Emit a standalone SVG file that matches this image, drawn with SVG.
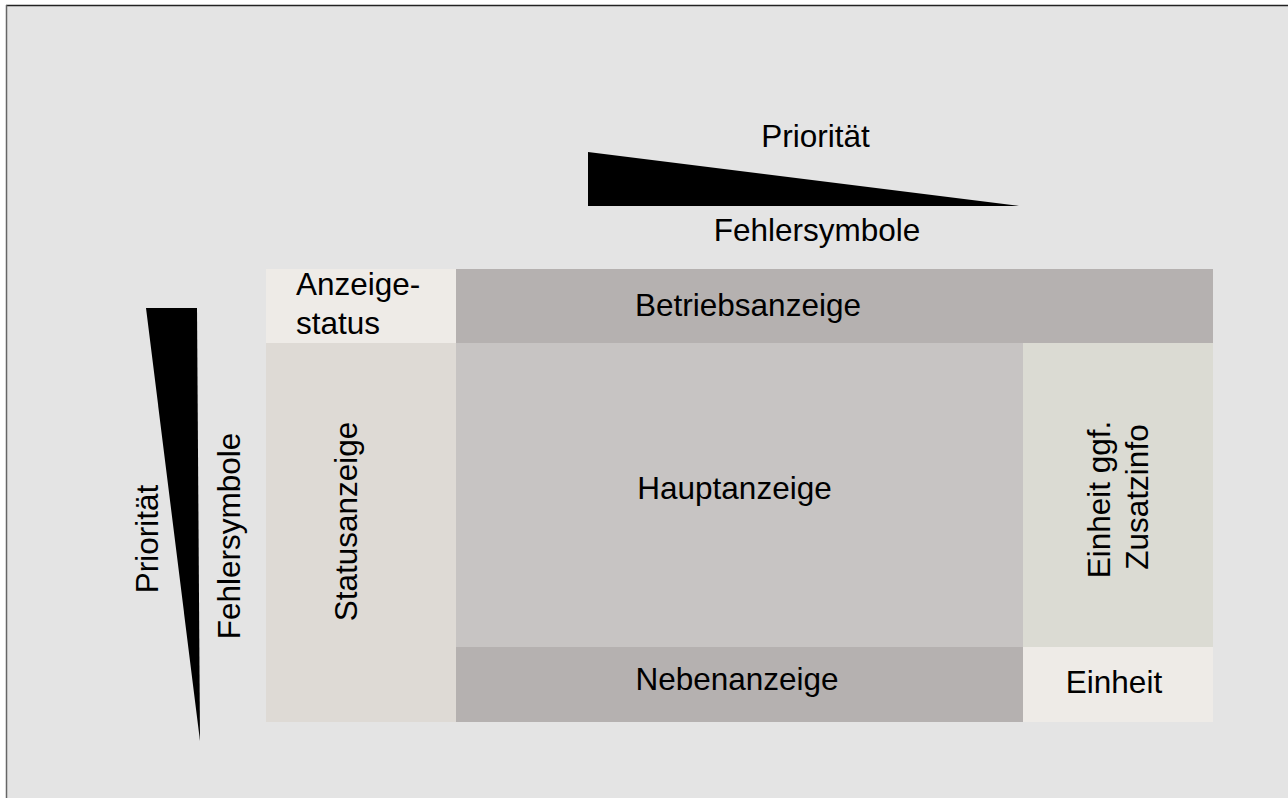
<svg xmlns="http://www.w3.org/2000/svg" width="1288" height="798" viewBox="0 0 1288 798">
  <style>
    text { font-family: "Liberation Sans", Arial, sans-serif; font-size: 31.5px; fill: #000; }
    .c { text-anchor: middle; }
    .pale { fill: #EEEBE7; }
    .dark { fill: #B5B1B0; }
    .status { fill: #DEDAD5; }
    .main { fill: #C7C4C3; }
    .unit { fill: #DBDBD3; }
    .wedge { fill: #000; }
  </style>

  <!-- canvas background and frame -->
  <rect x="0" y="0" width="1288" height="798" fill="#FFFFFF"/>
  <rect x="6" y="5" width="1290" height="800" fill="#E4E4E4"/>
  <line x1="6" y1="5.5" x2="1288" y2="5.5" stroke="#222" stroke-width="1.5"/>
  <line x1="6.5" y1="5" x2="6.5" y2="798" stroke="#666" stroke-width="1.5"/>

  <!-- horizontal priority wedge -->
  <g id="priority-horizontal">
    <polygon class="wedge" points="588,152 1019,206 588,206"/>
    <text class="c" x="815.5" y="147">Priorität</text>
    <text class="c" x="817" y="241">Fehlersymbole</text>
  </g>

  <!-- vertical priority wedge -->
  <g id="priority-vertical">
    <polygon class="wedge" points="146,308 197,308 200,741"/>
    <text class="c" transform="translate(158,539) rotate(-90)">Priorität</text>
    <text class="c" transform="translate(240,536) rotate(-90)">Fehlersymbole</text>
  </g>

  <!-- display areas -->
  <g id="anzeigestatus">
    <rect class="pale" x="266" y="269" width="190" height="74"/>
    <text x="296" y="295">Anzeige-</text>
    <text x="296" y="334">status</text>
  </g>

  <g id="betriebsanzeige">
    <rect class="dark" x="456" y="269" width="757" height="74"/>
    <text class="c" x="748" y="316">Betriebsanzeige</text>
  </g>

  <g id="statusanzeige">
    <rect class="status" x="266" y="343" width="190" height="379"/>
    <text class="c" transform="translate(357,521.5) rotate(-90)">Statusanzeige</text>
  </g>

  <g id="hauptanzeige">
    <rect class="main" x="456" y="343" width="567" height="304"/>
    <text class="c" x="734.5" y="499">Hauptanzeige</text>
  </g>

  <g id="zusatzinfo">
    <rect class="unit" x="1023" y="343" width="190" height="304"/>
    <text class="c" transform="translate(1110,499.5) rotate(-90)">Einheit ggf.</text>
    <text class="c" transform="translate(1148,497) rotate(-90)">Zusatzinfo</text>
  </g>

  <g id="nebenanzeige">
    <rect class="dark" x="456" y="647" width="567" height="75"/>
    <text class="c" x="737" y="690">Nebenanzeige</text>
  </g>

  <g id="einheit">
    <rect class="pale" x="1023" y="647" width="190" height="75"/>
    <text class="c" x="1114" y="693">Einheit</text>
  </g>

  <!-- no connectors in this layout -->
  <g id="connectors"/>
</svg>
